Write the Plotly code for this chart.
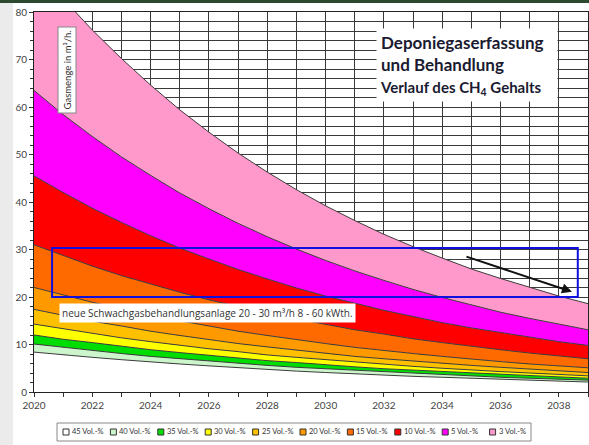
import plotly.graph_objects as go

years = list(range(2020, 2040))

# cumulative upper boundaries of each stacked band (m³/h)
gas_45 = [8.4, 7.8, 7.3, 6.8, 6.3, 5.9, 5.5, 5.1, 4.7, 4.4, 4.1, 3.8, 3.5, 3.3, 3.1, 2.9, 2.7, 2.5, 2.3, 2.1]
gas_40 = [10.1, 9.4, 8.7, 8.1, 7.5, 7.0, 6.5, 6.1, 5.6, 5.2, 4.9, 4.5, 4.2, 3.9, 3.6, 3.4, 3.1, 2.9, 2.7, 2.5]
gas_35 = [12.0, 11.1, 10.4, 9.6, 8.9, 8.3, 7.7, 7.1, 6.6, 6.2, 5.7, 5.3, 4.9, 4.6, 4.3, 4.0, 3.7, 3.4, 3.2, 2.9]
gas_30 = [14.3, 13.3, 12.3, 11.4, 10.6, 9.8, 9.1, 8.5, 7.8, 7.3, 6.8, 6.3, 5.8, 5.4, 5.0, 4.6, 4.3, 4.0, 3.7, 3.4]
gas_25 = [17.4, 16.1, 14.9, 13.9, 12.8, 11.9, 11.0, 10.2, 9.5, 8.8, 8.1, 7.5, 7.0, 6.5, 6.0, 5.6, 5.2, 4.8, 4.4, 4.1]
gas_20 = [22.0, 20.4, 18.9, 17.5, 16.2, 15.0, 13.9, 12.8, 11.9, 11.0, 10.2, 9.4, 8.7, 8.1, 7.5, 6.9, 6.4, 5.9, 5.5, 5.1]
gas_15 = [31.0, 28.7, 26.5, 24.5, 22.7, 21.0, 19.4, 18.0, 16.6, 15.4, 14.2, 13.1, 12.2, 11.2, 10.4, 9.6, 8.9, 8.2, 7.6, 7.0]
gas_10 = [45.5, 42.0, 38.7, 35.7, 32.9, 30.3, 28.0, 25.8, 23.8, 21.9, 20.2, 18.7, 17.2, 15.9, 14.6, 13.5, 12.5, 11.5, 10.6, 9.8]
gas_5 = [63.5, 58.4, 53.8, 49.5, 45.6, 41.9, 38.6, 35.5, 32.7, 30.1, 27.7, 25.5, 23.5, 21.6, 19.9, 18.3, 16.8, 15.5, 14.3, 13.1]
gas_3 = [90.0, 82.8, 76.2, 70.2, 64.6, 59.4, 54.7, 50.3, 46.3, 42.6, 39.2, 36.1, 33.2, 30.6, 28.2, 25.9, 23.9, 22.0, 20.2, 18.6]

series_names = ["45 Vol.-%", "40 Vol.-%", "35 Vol.-%", "30 Vol.-%", "25 Vol.-%",
                "20 Vol.-%", "15 Vol.-%", "10 Vol.-%", "5 Vol.-%", "3 Vol.-%"]
series_values = [gas_45, gas_40, gas_35, gas_30, gas_25, gas_20, gas_15, gas_10, gas_5, gas_3]
series_colors = ["#ffffff", "#ccf5cc", "#00dd00", "#ffff00", "#ffc000",
                 "#ff9900", "#ff6a00", "#ff0000", "#ff00ff", "#ff99cc"]

# helper: pixel -> paper coordinates (plot area 34..588 x, 12..392 y)
L, R, T, B = 34, 588, 12, 392
def px(xp):
    return (xp - L) / (R - L)
def py(yp):
    return (B - yp) / (B - T)

fig = go.Figure()
for i, (name, vals, col) in enumerate(zip(series_names, series_values, series_colors)):
    fig.add_trace(go.Scatter(
        x=years, y=vals, name=name, mode="lines",
        line=dict(color="#3c3c3c", width=1),
        fill="tozeroy" if i == 0 else "tonexty",
        fillcolor=col, showlegend=False, hoverinfo="skip"))

grid = "#3a3a3a"
fig.update_layout(
    width=589, height=445,
    margin=dict(l=L, r=589 - R, t=T, b=445 - B, autoexpand=False),
    paper_bgcolor="#ffffff", plot_bgcolor="#ffffff",
    font=dict(family="Lato, Open Sans, sans-serif", color="#444444", size=10),
    showlegend=False,
    xaxis=dict(range=[2020, 2039], tick0=2020, dtick=2, ticks="outside", ticklen=4,
               tickcolor="#333", showline=True, linecolor="#222", linewidth=1, mirror=True,
               showgrid=True, gridcolor=grid, gridwidth=1, zeroline=False, automargin=False,
               tickfont=dict(size=10, color="#444"),
               minor=dict(dtick=1, showgrid=True, gridcolor=grid, ticks="outside",
                          ticklen=4, tickcolor="#333")),
    yaxis=dict(range=[0, 80], tick0=0, dtick=10, ticks="outside", ticklen=4,
               tickcolor="#333", showline=True, linecolor="#222", linewidth=1, mirror=True,
               showgrid=True, gridcolor=grid, gridwidth=1, zeroline=False, automargin=False,
               tickfont=dict(size=10, color="#444"),
               minor=dict(dtick=2, showgrid=True, gridcolor=grid, ticks="outside",
                          ticklen=3, tickcolor="#333")),
)

shapes = [
    # grey strip at the left edge and dark strip at the top (photo frame)
    dict(type="rect", xref="paper", yref="paper", x0=px(0), x1=px(13), y0=py(445), y1=py(0),
         fillcolor="#ebebeb", line=dict(width=0), layer="below"),
    dict(type="rect", xref="paper", yref="paper", x0=px(0), x1=px(589), y0=py(3), y1=py(0),
         fillcolor="#2e4a2e", line=dict(width=0), layer="below"),
    # blue frame of the new plant range
    dict(type="rect", xref="x", yref="y", x0=2020.62, x1=2038.65, y0=20.0, y1=30.3,
         line=dict(color="#1010e0", width=2), fillcolor="rgba(0,0,0,0)"),
    # legend frame
    dict(type="rect", xref="paper", yref="paper", x0=px(57), x1=px(531), y0=py(441), y1=py(423),
         line=dict(color="#888888", width=1), fillcolor="#ffffff"),
]

annotations = [
    dict(x=2038.45, y=21.1, ax=2034.78, ay=28.6, xref="x", yref="y", axref="x", ayref="y",
         showarrow=True, arrowhead=2, arrowsize=1, arrowwidth=2, arrowcolor="#111111", text=""),
    dict(x=2020.85, y=16.7, xref="x", yref="y", xanchor="left", yanchor="middle", showarrow=False,
         text="neue Schwachgasbehandlungsanlage 20 - 30 m³/h 8 - 60 kWth.",
         font=dict(family="Open Sans, sans-serif", size=10, color="#333333"),
         bgcolor="#ffffff", borderpad=2),
    dict(x=px(376), y=py(28), xref="paper", yref="paper", xanchor="left", yanchor="top",
         showarrow=False, align="left", bgcolor="#ffffff", borderpad=3, width=174,
         text="<b>Deponiegaserfassung<br>und Behandlung<br>"
              "<span style='font-size:15px'>Verlauf des CH<sub>4</sub> Gehalts</span></b>",
         font=dict(family="Lato, sans-serif", size=17, color="#1a1a30")),
    dict(x=px(66.5), y=py(70), xref="paper", yref="paper", xanchor="center", yanchor="middle",
         textangle=-90, showarrow=False,
         text="Gasmenge in m³/h.", font=dict(family="Lato, sans-serif", size=9.5, color="#333"),
         bgcolor="#ffffff", bordercolor="#888888", borderwidth=1, borderpad=3),
]

# legend drawn as swatches and labels in one row below the chart
x_start, step = 63, 47.4
for i, (name, col) in enumerate(zip(series_names, series_colors)):
    sx = x_start + i * step
    shapes.append(dict(type="rect", xref="paper", yref="paper",
                       x0=px(sx), x1=px(sx + 6), y0=py(435), y1=py(429),
                       fillcolor=col, line=dict(color="#333333", width=1)))
    annotations.append(dict(x=px(sx + 7), y=py(432), xref="paper", yref="paper",
                            xanchor="left", yanchor="middle", showarrow=False, text=name,
                            font=dict(family="Lato, sans-serif", size=7.5, color="#333")))

fig.update_layout(shapes=shapes, annotations=annotations)
fig.write_html("out.html", config={"displayModeBar": False},
               post_script="document.body.style.margin='0';document.body.style.overflow='hidden';")
